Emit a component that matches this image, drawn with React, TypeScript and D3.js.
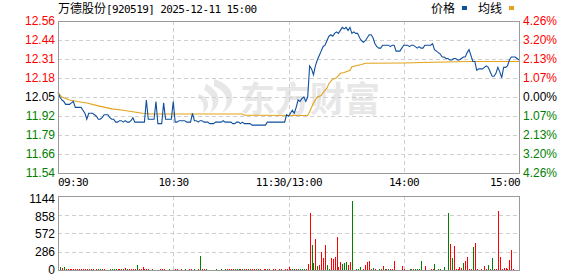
import React from "react";
import * as d3 from "d3";

// ---------- data ----------
const title = "万德股份";
const titleCode = "[920519] 2025-12-11 15:00";
const prevClose = 12.05;
const pctRange = 0.0426;

const priceTickLabels = ["12.56", "12.44", "12.31", "12.18", "12.05", "11.92", "11.79", "11.66", "11.54"];
const pctTickLabels = ["4.26%", "3.20%", "2.13%", "1.07%", "0.00%", "1.07%", "2.13%", "3.20%", "4.26%"];
const volTickLabels = ["1144", "858", "572", "286", "0"];
const volTickValues = [1144, 858, 572, 286, 0];
const volMax = 1144;

const timeLabels = ["09:30", "10:30", "11:30/13:00", "14:00", "15:00"];
const timeLabelMinutes = [0, 60, 120, 180, 240];

// minute-by-minute last price (241 minutes)
const prices = [
  12.08, 12.05, 12.03, 12.02, 12.0, 12.0, 12.0, 12.01, 12.02, 11.98,
  11.98, 11.98, 11.98, 11.96, 11.94, 11.9, 11.94, 11.94, 11.94, 11.93,
  11.92, 11.9, 11.9, 11.91, 11.93, 11.93, 11.93, 11.91, 11.9, 11.9,
  11.88, 11.88, 11.89, 11.89, 11.88, 11.89, 11.88, 11.88, 11.89, 11.91,
  11.88, 11.88, 11.88, 11.88, 11.88, 11.88, 12.03, 11.9, 11.9, 11.9,
  11.9, 12.02, 11.87, 11.87, 11.87, 12.01, 11.9, 11.9, 11.9, 11.9,
  12.02, 11.88, 11.88, 11.89, 11.89, 11.89, 11.89, 11.88, 11.88, 11.88,
  11.94, 11.89, 11.89, 11.88, 11.89, 11.89, 11.88, 11.88, 11.88, 11.87,
  11.87, 11.87, 11.88, 11.88, 11.88, 11.88, 11.89, 11.88, 11.88, 11.88,
  11.88, 11.87, 11.87, 11.88, 11.88, 11.87, 11.88, 11.87, 11.87, 11.87,
  11.87, 11.86, 11.86, 11.86, 11.86, 11.86, 11.86, 11.86, 11.86, 11.88,
  11.88, 11.88, 11.88, 11.88, 11.88, 11.88, 11.88, 11.88, 11.88, 11.93,
  11.92,
  11.94, 11.96, 11.94, 11.98, 12.03, 12.02, 12.04, 12.05, 12.02, 12.05,
  12.26, 12.24, 12.2, 12.26, 12.3, 12.33, 12.36, 12.39, 12.4, 12.43,
  12.46, 12.47, 12.46, 12.48, 12.49, 12.48, 12.5, 12.52, 12.51, 12.52,
  12.5, 12.52, 12.48, 12.49, 12.48, 12.48, 12.45, 12.43, 12.42, 12.43,
  12.45, 12.47, 12.47, 12.45, 12.41, 12.39, 12.38, 12.38, 12.4, 12.4,
  12.4, 12.4, 12.39, 12.4, 12.4, 12.36, 12.36, 12.36, 12.38, 12.4,
  12.4, 12.4, 12.39, 12.4, 12.4, 12.39, 12.38, 12.39, 12.38, 12.38,
  12.4, 12.4, 12.4, 12.4, 12.41, 12.37, 12.36, 12.35, 12.34, 12.32,
  12.32, 12.31, 12.31, 12.3, 12.3, 12.31, 12.31, 12.3, 12.3, 12.31,
  12.32, 12.32, 12.35, 12.37, 12.33, 12.29, 12.29, 12.23, 12.24, 12.24,
  12.24, 12.25, 12.26, 12.25, 12.22, 12.19, 12.19, 12.21, 12.25, 12.22,
  12.18, 12.25, 12.25, 12.26, 12.3, 12.32, 12.32, 12.32, 12.31, 12.3,
];

// average price line, read at its turning points
const avgMinutes = [0, 2, 6, 10, 15, 21, 28, 34, 39, 44, 48, 96, 97, 130, 131, 133, 135, 137, 138, 140, 141, 143, 145, 147, 149, 150, 152, 153, 158, 160, 180, 195, 215, 240];
const avgValues = [12.08, 12.05, 12.03, 12.02, 12.01, 11.99, 11.97, 11.96, 11.95, 11.94, 11.935, 11.935, 11.927, 11.925, 11.95, 12.01, 12.05, 12.06, 12.08, 12.11, 12.14, 12.17, 12.18, 12.21, 12.215, 12.22, 12.23, 12.255, 12.27, 12.278, 12.28, 12.285, 12.29, 12.29];

// minute volumes
const volumes = [
  0, 40, 25, 50, 15, 15, 15, 15, 15, 15,
  15, 15, 15, 15, 15, 15, 15, 15, 15, 0,
  15, 15, 15, 15, 15, 0, 0, 15, 15, 15,
  15, 15, 15, 15, 15, 25, 15, 15, 15, 20,
  15, 70, 15, 15, 50, 15, 15, 15, 0, 15,
  0, 0, 0, 15, 15, 15, 0, 0, 15, 0,
  0, 15, 15, 0, 15, 0, 15, 0, 15, 15,
  0, 15, 0, 15, 210, 15, 15, 15, 0, 0,
  0, 0, 15, 0, 0, 15, 0, 15, 15, 15,
  15, 15, 15, 15, 15, 15, 15, 15, 15, 15,
  15, 15, 15, 15, 15, 15, 0, 15, 15, 15,
  15, 0, 15, 15, 0, 15, 15, 0, 15, 20,
  50,
  20, 20, 20, 20, 20, 20, 20, 20, 20, 98,
  886, 392, 114, 485, 57, 82, 284, 191, 392, 82,
  20, 191, 175, 206, 516, 40, 129, 98, 114, 129,
  72, 129, 1060, 0, 20, 20, 40, 0, 20, 82,
  124, 145, 20, 30, 20, 0, 20, 20, 67, 20,
  20, 20, 20, 20, 145, 0, 0, 0, 62, 20,
  0, 0, 20, 20, 20, 20, 20, 20, 145, 0,
  67, 0, 0, 20, 20, 98, 0, 20, 20, 0,
  52, 0, 886, 408, 191, 377, 20, 20, 52, 30,
  114, 145, 206, 20, 20, 362, 423, 20, 0, 20,
  0, 67, 20, 82, 20, 191, 20, 20, 908, 206,
  20, 35, 35, 20, 160, 314, 20, 0, 0, 82,
];

// r = up (red), g = down (green)
const volumeDirs = (
  "ggrgrrrrrr" + "rrrrrrgrrr" + "rggrrrrggg" + "grrrgrgrrr" + "rgrrrrrrrg" +
  "rrrrrrrrgr" + "rrrrrrgrrr" + "rgrrgrrgrr" + "rrgrrgrgrr" + "rrgggrgrrg" +
  "rrrgrrrrrg" + "rrrrrrrrrr" + "r" +
  "rggrggggrr" + "rggrgrrrrg" + "grrrrrrggg" + "rrgggggrrr" + "rrrgrrggrg" +
  "rgrrrrrrrr" + "rrggrggggr" + "rrrrrgrggr" + "grgrgrrrrr" + "grrrrgrrrr" +
  "rrrgggrrrr" + "rrrrrrrrrg"
).split("");

// ---------- layout ----------
const W = 578;
const H = 276;
const L = 58;
const R = 519;
const PT = 21;
const PB = 173;
const VT = 196;
const VB = 270;

const RED = "#ff0000";
const GREEN = "#008000";
const GRID = "#cfcfcf";
const FRAME = "#9a9a9a";
const NUM_FONT = "'Liberation Sans', Arial, sans-serif";
const MONO_FONT = "'DejaVu Sans Mono', monospace";
const CJK_FONT = "'Noto Sans CJK SC', sans-serif";

export default function App() {
  const x = d3.scaleLinear().domain([0, 240]).range([L, R]);
  const span = prevClose * pctRange;
  const y = d3.scaleLinear().domain([prevClose - span, prevClose + span]).range([PB, PT]);
  const yv = d3.scaleLinear().domain([0, volMax]).range([VB, VT]);
  const yvLabel = d3.scaleLinear().domain([0, volMax]).range([VB - 0.8, VT + 2.7]);

  const levels = d3.range(4, -5, -1).map((k) => prevClose + (k * span) / 4);

  const priceLine = d3
    .line<number>()
    .x((_, i) => x(i))
    .y((d) => y(d))(prices) as string;

  const avgLine = d3
    .line<number>()
    .x((_, i) => x(avgMinutes[i]))
    .y((d) => y(d))(avgValues) as string;

  const labelColor = (k: number) => (k < 4 ? RED : k === 4 ? "#000" : GREEN);
  const vGridMinutes = [60, 120, 180];

  return (
    <svg
      width={W}
      height={H}
      style={{ position: "absolute", left: 0, top: 0, display: "block" }}
    >
      <rect x={0} y={0} width={W} height={H} fill="#fff" />

      {/* watermark */}
      <g fill="#e7e7e7">
        <path d="M214 79 C236 86 238 104 222 113 C230 103 228 92 214 86 Z" />
        <path d="M206 84 C222 92 222 106 210 113 C215 104 213 95 204 90 Z" />
        <path d="M199 94 C210 98 211 108 203 113 C205 106 203 100 198 98 Z" />
      </g>
      <text
        x={240}
        y={112}
        fontFamily={CJK_FONT}
        fontWeight={700}
        fontSize={35}
        fill="#e7e7e7"
      >
        东方财富
      </text>

      {/* price grid */}
      <g stroke={GRID} strokeDasharray="4,3" shapeRendering="crispEdges">
        {levels.slice(1, 8).map((v, k) => (
          <line key={"h" + k} x1={L} x2={R} y1={Math.round(y(v)) + 0.5} y2={Math.round(y(v)) + 0.5} />
        ))}
        {vGridMinutes.map((m) => (
          <line key={"v" + m} x1={Math.round(x(m)) + 0.5} x2={Math.round(x(m)) + 0.5} y1={PT} y2={PB} />
        ))}
        {volTickValues.slice(1, 4).map((v) => (
          <line key={"vh" + v} x1={L} x2={R} y1={Math.round(yv(v)) + 0.5} y2={Math.round(yv(v)) + 0.5} />
        ))}
        {vGridMinutes.map((m) => (
          <line key={"vv" + m} x1={Math.round(x(m)) + 0.5} x2={Math.round(x(m)) + 0.5} y1={VT} y2={VB} />
        ))}
      </g>

      {/* lines */}
      <path d={avgLine} fill="none" stroke="#e3a21a" strokeWidth={1.1} />
      <path d={priceLine} fill="none" stroke="#0e4f9f" strokeWidth={1.1} strokeLinejoin="miter" />

      {/* volume bars */}
      <g shapeRendering="crispEdges">
        {volumes.map((v, i) =>
          v > 0 ? (
            <rect
              key={"b" + i}
              x={Math.round(x(i))}
              y={yv(v)}
              width={1}
              height={VB - yv(v)}
              fill={volumeDirs[i] === "r" ? RED : GREEN}
            />
          ) : null
        )}
      </g>

      {/* frames */}
      <g fill="none" stroke={FRAME} shapeRendering="crispEdges">
        <rect x={L + 0.5} y={PT + 0.5} width={R - L} height={PB - PT} />
        <rect x={L + 0.5} y={VT + 0.5} width={R - L} height={VB - VT} />
      </g>

      {/* price axis labels */}
      <g fontFamily={NUM_FONT} fontSize={12}>
        {priceTickLabels.map((t, k) => (
          <text key={"pl" + k} x={55} y={y(levels[k]) + 4.3} textAnchor="end" fill={labelColor(k)}>
            {t}
          </text>
        ))}
        {pctTickLabels.map((t, k) => (
          <text key={"pr" + k} x={523} y={y(levels[k]) + 4.3} fill={labelColor(k)}>
            {t}
          </text>
        ))}
        {volTickLabels.map((t, k) => (
          <text key={"vl" + k} x={55} y={yvLabel(volTickValues[k]) + 4.3} textAnchor="end" fill="#000">
            {t}
          </text>
        ))}
      </g>

      {/* time labels */}
      <g fontFamily={MONO_FONT} fontSize={11} letterSpacing={-0.6} fill="#000">
        {timeLabels.map((t, k) => {
          const m = timeLabelMinutes[k];
          const anchor = k === 0 ? "start" : k === timeLabels.length - 1 ? "end" : "middle";
          return (
            <text key={"t" + k} x={x(m) + (k === timeLabels.length - 1 ? 1 : k === 0 ? 0 : 0.3)} y={186} textAnchor={anchor}>
              {t}
            </text>
          );
        })}
      </g>

      {/* title */}
      <text x={58} y={13} fill="#000">
        <tspan fontFamily={CJK_FONT} fontSize={12}>{title}</tspan>
        <tspan fontFamily={MONO_FONT} fontSize={11} letterSpacing={-0.6}>{titleCode}</tspan>
      </text>

      {/* legend */}
      <g fontFamily={CJK_FONT} fontSize={12} fill="#000">
        <text x={431} y={13}>价格</text>
        <rect x={462} y={6} width={5} height={4} fill="#0e4f9f" />
        <text x={478} y={13}>均线</text>
        <rect x={509} y={6} width={5} height={4} fill="#e3a21a" />
      </g>
    </svg>
  );
}
